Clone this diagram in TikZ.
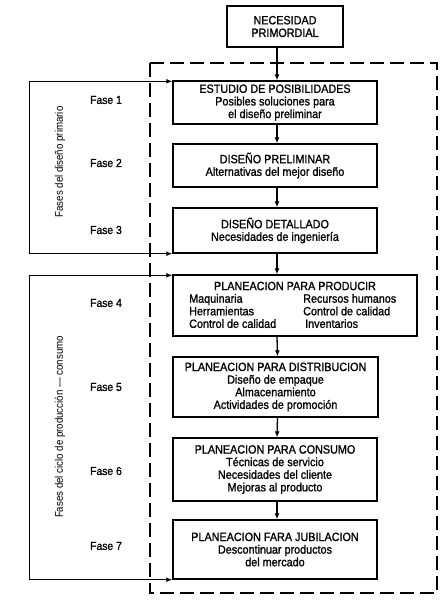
\documentclass[tikz,border=0pt]{standalone}
\usepackage{fontspec}
\setmainfont{Liberation Sans}[FakeStretch=0.88]
\newfontfamily\boxfont{Liberation Sans}[FakeStretch=0.9,FakeBold=1.2]
\usetikzlibrary{arrows.meta}
\begin{document}
\begin{tikzpicture}[x=1pt,y=-1pt,
  txt/.style={font=\boxfont\fontsize{12}{12.6}\selectfont},
  box/.style={draw,line width=1.4pt,inner sep=0pt,align=center,txt},
  arr/.style={line width=1.3pt,-{Latex[length=6pt,width=5pt]}},
  brk/.style={line width=1.3pt,{Latex[length=6pt,width=5pt]}-{Latex[length=6pt,width=5pt]}},
  fase/.style={font=\boxfont\fontsize{11.5}{12}\selectfont},
  side/.style={rotate=90,font=\fontsize{11}{12}\selectfont}]
\useasboundingbox (0,0) rectangle (443,605);
\draw[line width=1.3pt,dash pattern=on 14pt off 6pt] (150,63) rectangle (437,593);
\node[box,minimum width=116,minimum height=41] (top) at (285,26.5) {NECESIDAD\\PRIMORDIAL};
\node[box,minimum width=204,minimum height=43] (b1) at (275,102.5) {ESTUDIO DE POSIBILIDADES\\Posibles soluciones para\\el diseño preliminar};
\node[box,minimum width=204,minimum height=43] (b2) at (275,165.5) {DISEÑO PRELIMINAR\\Alternativas del mejor diseño};
\node[box,minimum width=204,minimum height=45] (b3) at (275,230.5) {DISEÑO DETALLADO\\Necesidades de ingeniería};
\node[box,minimum width=244,minimum height=61] (b4) at (295,305.5) {};
\node[txt,inner sep=0pt] (b4t) at (295,286) {PLANEACION PARA PRODUCIR};
\node[txt,align=left,anchor=west,inner sep=0pt] (b4l) at (189,311) {Maquinaria\\Herramientas\\Control de calidad};
\node[txt,align=left,anchor=west,inner sep=0pt] (b4r) at (303,311) {Recursos humanos\\Control de calidad\\\hspace{2pt}Inventarios};
\node[box,minimum width=205,minimum height=60] (b5) at (275.5,387) {PLANEACION PARA DISTRIBUCION\\Diseño de empaque\\Almacenamiento\\Actividades de promoción};
\node[box,minimum width=204,minimum height=63] (b6) at (275,469.5) {PLANEACION PARA CONSUMO\\Técnicas de servicio\\Necesidades del cliente\\Mejoras al producto};
\node[box,minimum width=204,minimum height=59] (b7) at (275,549.5) {PLANEACION FARA JUBILACION\\Descontinuar productos\\del mercado};
\draw[arr] ([xshift=-8]top.south) -- ([xshift=2]b1.north);
\draw[arr] ([xshift=2]b1.south) -- ([xshift=2]b2.north);
\draw[arr] ([xshift=2]b2.south) -- ([xshift=2]b3.north);
\draw[arr] ([xshift=2]b3.south) -- ([xshift=2]b3.south |- b4.north);
\draw[arr] ([xshift=2]b3.south |- b4.south) -- ([xshift=2]b5.north);
\draw[arr] ([xshift=2]b5.south) -- ([xshift=2]b6.north);
\draw[arr] ([xshift=2]b6.south) -- ([xshift=2]b7.north);
\draw[brk] ([yshift=-1]b1.north west) -- ++(-143,0) coordinate (c1) |- (b3.south west);
\draw[brk] ([yshift=-1]b4.north west) -- ++(-143,0) coordinate (c2) |- (b7.south west);
\node[fase] (f1) at (106,100) {Fase 1};
\node[fase] (f2) at (106,163) {Fase 2};
\node[fase] (f3) at (106,230) {Fase 3};
\node[fase] (f4) at (106,303) {Fase 4};
\node[fase] (f5) at (106,387) {Fase 5};
\node[fase] (f6) at (106,471) {Fase 6};
\node[fase] (f7) at (106,546) {Fase 7};
\node[side] (s1) at (60,162) {Fases del diseño primario};
\node[side] (s2) at (60,427) {Fases del ciclo de producción — consumo};
\end{tikzpicture}
\end{document}
